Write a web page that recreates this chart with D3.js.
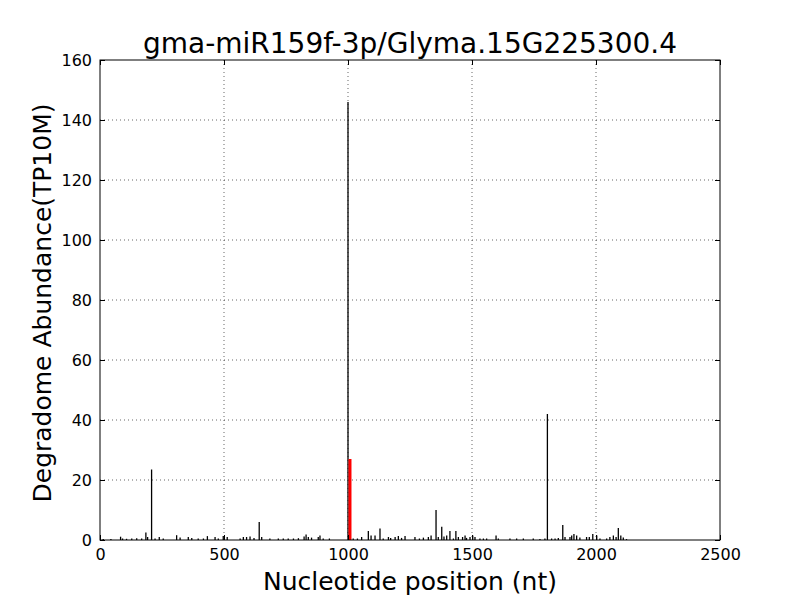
<!DOCTYPE html>
<html>
<head>
<meta charset="utf-8">
<script src="https://cdn.jsdelivr.net/npm/d3@7"></script>
<style>
  body { margin: 0; background: #fff; }
  svg { font-family: "DejaVu Sans", sans-serif; }
</style>
</head>
<body>
<svg width="800" height="600"></svg>
<script>
const title = 'gma-miR159f-3p/Glyma.15G225300.4'
const xLabel = 'Nucleotide position (nt)'
const yLabel = 'Degradome Abundance(TP10M)'

const xTicks = [0, 500, 1000, 1500, 2000, 2500]
const yTicks = [0, 20, 40, 60, 80, 100, 120, 140, 160]

// (position in nt, abundance)
const positions = [13, 44, 83, 91, 107, 128, 148, 168, 185, 192, 208, 222, 239, 255, 309, 323, 356,
  370, 396, 417, 433, 464, 477, 497, 513, 565, 578, 591, 605, 621, 642, 652, 685, 719,
  739, 759, 780, 800, 823, 831, 840, 853, 880, 887, 900, 925, 1000, 1021, 1038, 1055, 1082,
  1093, 1109, 1129, 1142, 1163, 1172, 1190, 1203, 1216, 1230, 1270, 1288, 1304, 1324, 1335, 1355,
  1364, 1378, 1387, 1398, 1411, 1425, 1435, 1445,
  1462, 1472, 1478, 1492, 1503, 1512, 1532, 1546, 1559, 1597, 1606, 1653, 1680, 1707, 1747, 1774, 1794, 1804,
  1821, 1835, 1848, 1866, 1875, 1895, 1902, 1911, 1922, 1935, 1962, 1973, 1987, 2003, 2016, 2043,
  2056, 2070, 2081, 2090, 2100, 2110, 2123]
const values = [0.3, 0.3, 1.1, 0.5, 0.4, 0.5, 0.6, 0.5, 2.5, 1, 23.5, 0.5, 1, 0.5, 1.6, 0.8, 1,
  0.7, 0.5, 0.5, 1.3, 1, 0.5, 1.3, 1, 0.5, 1, 1, 1.2, 0.7, 6, 1, 0.5, 0.5,
  0.5, 0.5, 0.5, 0.6, 1.2, 1.8, 1, 0.8, 1, 1.5, 0.5, 0.5, 146, 0.5, 0.5, 1, 3,
  1.5, 1.5, 3.8, 0.5, 1, 0.7, 1, 1.3, 0.7, 1.3, 1, 0.5, 0.8, 1, 1.5, 10,
  1, 4.4, 1.2, 1.5, 3, 0.5, 3, 1,
  1, 1.5, 0.7, 1, 1.5, 1, 0.5, 0.5, 0.5, 1.5, 0.5, 0.5, 0.5, 0.5, 0.5, 0.3, 0.5, 42,
  0.5, 0.5, 0.7, 5, 1, 1, 1.5, 2, 1.5, 0.8, 1, 1, 2, 1.5, 0.5, 0.5,
  1, 1.5, 1, 4, 1.5, 0.8, 0.3]
const targetPos = [1008]
const targetVal = [27]

const svg = d3.select('svg')
const margin = {top: 60, right: 80, bottom: 60, left: 100}
const innerWidth = 800 - margin.left - margin.right
const innerHeight = 600 - margin.top - margin.bottom

const xScale = d3.scaleLinear().domain([0, 2500]).range([0, innerWidth])
const yScale = d3.scaleLinear().domain([0, 160]).range([innerHeight, 0])

const g = svg.append('g').attr('transform', `translate(${margin.left},${margin.top})`)

// grid
g.append('g').selectAll('line')
  .data(xTicks.slice(1, -1))
  .enter().append('line')
    .attr('x1', d => xScale(d)).attr('x2', d => xScale(d))
    .attr('y1', 0).attr('y2', innerHeight)
    .attr('stroke', '#000').attr('stroke-width', 0.6).attr('stroke-dasharray', '1,3')
g.append('g').selectAll('line')
  .data(yTicks.slice(1, -1))
  .enter().append('line')
    .attr('y1', d => yScale(d)).attr('y2', d => yScale(d))
    .attr('x1', 0).attr('x2', innerWidth)
    .attr('stroke', '#000').attr('stroke-width', 0.6).attr('stroke-dasharray', '1,3')

// spikes
g.append('g').selectAll('line')
  .data(positions.map((p, i) => ({p, v: values[i]})))
  .enter().append('line')
    .attr('x1', d => xScale(d.p)).attr('x2', d => xScale(d.p))
    .attr('y1', yScale(0)).attr('y2', d => yScale(d.v))
    .attr('stroke', '#000').attr('stroke-width', 1.3)

g.append('g').selectAll('line')
  .data(targetPos.map((p, i) => ({p, v: targetVal[i]})))
  .enter().append('line')
    .attr('x1', d => xScale(d.p)).attr('x2', d => xScale(d.p))
    .attr('y1', yScale(0)).attr('y2', d => yScale(d.v))
    .attr('stroke', '#ff0000').attr('stroke-width', 3)

// axes, ticks inside on all sides
const fmt = d3.format('d')
const axBottom = g.append('g').attr('transform', `translate(0,${innerHeight})`)
  .call(d3.axisBottom(xScale).tickValues(xTicks).tickFormat(fmt).tickSizeInner(-5).tickSizeOuter(0).tickPadding(9))
const axTop = g.append('g')
  .call(d3.axisTop(xScale).tickValues(xTicks).tickFormat('').tickSizeInner(-5).tickSizeOuter(0))
const axLeft = g.append('g')
  .call(d3.axisLeft(yScale).tickValues(yTicks).tickFormat(fmt).tickSizeInner(-5).tickSizeOuter(0).tickPadding(8))
const axRight = g.append('g').attr('transform', `translate(${innerWidth},0)`)
  .call(d3.axisRight(yScale).tickValues(yTicks).tickFormat('').tickSizeInner(-5).tickSizeOuter(0))

;[axBottom, axTop, axLeft, axRight].forEach(a => {
  a.select('.domain').remove()
  a.selectAll('.tick line').attr('stroke', '#000')
  a.selectAll('.tick text').attr('fill', '#000').style('font-size', '16px').style('font-family', 'DejaVu Sans')
})
axTop.selectAll('.tick text').remove()
axRight.selectAll('.tick text').remove()

g.append('rect')
  .attr('width', innerWidth).attr('height', innerHeight)
  .attr('fill', 'none').attr('stroke', '#000').attr('stroke-width', 1)

svg.append('text')
  .text(title)
  .attr('x', margin.left + innerWidth / 2).attr('y', 53)
  .attr('text-anchor', 'middle')
  .style('font-size', '28px')

svg.append('text')
  .text(xLabel)
  .attr('x', margin.left + innerWidth / 2).attr('y', 590)
  .attr('text-anchor', 'middle')
  .style('font-size', '25px')

svg.append('text')
  .text(yLabel)
  .attr('transform', `translate(51,${margin.top + innerHeight / 2 + 3}) rotate(-90)`)
  .attr('text-anchor', 'middle')
  .style('font-size', '25px')
</script>
</body>
</html>
